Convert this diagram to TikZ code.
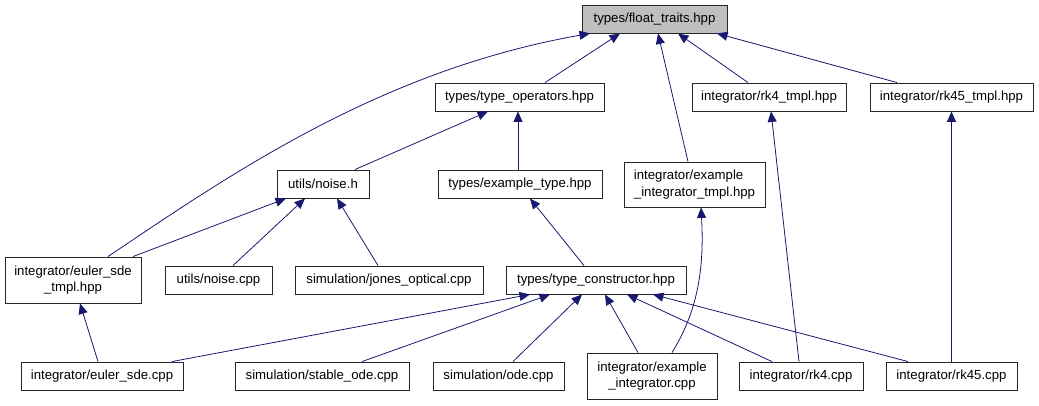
\documentclass[tikz,border=0pt]{standalone}
\usepackage{fontspec}
\setmainfont{Liberation Sans}
\usetikzlibrary{arrows.meta}

\definecolor{edgeblue}{HTML}{191970}
\definecolor{rootgray}{HTML}{BFBFBF}

\tikzset{
  file/.style={draw=black!85, line width=0.9pt, rectangle, inner sep=0pt,
    font=\fontsize{13.2}{16.5}\selectfont, minimum height=28pt, align=center},
  dep/.style={draw=edgeblue, line width=0.8pt, -{Triangle[length=10.5pt,width=9pt]}}
}

\begin{document}
\begin{tikzpicture}[x=1pt,y=-1pt]
        % --- 1. Canvas ---
        \useasboundingbox (0,0) rectangle (1039,405);

        % --- 2. Files, row by row ---
        \node[file, fill=rootgray, minimum width=145pt] (ft) at (654.5,19) {types/float\_traits.hpp};

        \node[file, minimum width=169pt] (top)   at (519.5,97) {types/type\_operators.hpp};
        \node[file, minimum width=154pt] (rk4t)  at (769,97)   {integrator/rk4\_tmpl.hpp};
        \node[file, minimum width=163pt] (rk45t) at (951.5,97) {integrator/rk45\_tmpl.hpp};

        \node[file, minimum width=92pt]  (noiseh) at (323,184) {utils/noise.h};
        \node[file, minimum width=164pt] (extype) at (520,184) {types/example\_type.hpp};
        \node[file, minimum width=141pt, minimum height=45pt, align=left] (exintt) at (694.5,184.5)
              {integrator/example\\\_integrator\_tmpl.hpp};

        \node[file, minimum width=136pt, minimum height=46pt] (eulert) at (73,280)
              {integrator/euler\_sde\\\_tmpl.hpp};
        \node[file, minimum width=107pt] (noisecpp) at (218.5,280) {utils/noise.cpp};
        \node[file, minimum width=188pt] (jones)    at (389,280)   {simulation/jones\_optical.cpp};
        \node[file, minimum width=180pt] (tc)       at (596,280)   {types/type\_constructor.hpp};

        \node[file, minimum width=162pt] (eulercpp) at (102,376)   {integrator/euler\_sde.cpp};
        \node[file, minimum width=174pt] (stable)   at (322,376)   {simulation/stable\_ode.cpp};
        \node[file, minimum width=131pt] (ode)      at (498.5,376) {simulation/ode.cpp};
        \node[file, minimum width=130pt, minimum height=46pt] (exint) at (652,376)
              {integrator/example\\\_integrator.cpp};
        \node[file, minimum width=124pt] (rk4)      at (801,376)   {integrator/rk4.cpp};
        \node[file, minimum width=131pt] (rk45)     at (951.5,376) {integrator/rk45.cpp};

        % --- 3. Includes of float_traits ---
        \draw[dep] ([xshift=25.5pt]top.north)   -- ([xshift=-34.5pt]ft.south);
        \draw[dep] ([xshift=-6.5pt]exintt.north) -- ([xshift=3.5pt]ft.south);
        \draw[dep] ([xshift=-21pt]rk4t.north)   -- ([xshift=23.5pt]ft.south);
        \draw[dep] ([xshift=-54.5pt]rk45t.north) -- ([xshift=62.5pt]ft.south);
        \draw[dep] ([xshift=35pt]eulert.north) .. controls +(122,-82) and +(-210,37) .. ([xshift=-64.5pt]ft.south);

        % --- 4. Second level ---
        \draw[dep] ([xshift=32pt]noiseh.north)  -- ([xshift=-31.5pt]top.south);
        \draw[dep] ([xshift=-2pt]extype.north)  -- ([xshift=-1.5pt]top.south);
        \draw[dep] ([xshift=60pt]eulert.north)  -- ([xshift=-37pt]noiseh.south);
        \draw[dep] ([xshift=14.5pt]noisecpp.north) -- ([xshift=-18pt]noiseh.south);
        \draw[dep] ([xshift=-11pt]jones.north)  -- ([xshift=14pt]noiseh.south);
        \draw[dep] ([xshift=-12pt]tc.north)     -- ([xshift=10pt]extype.south);

        % --- 5. Sources at the bottom ---
        \draw[dep] ([xshift=-4pt]eulercpp.north) -- ([xshift=7pt]eulert.south);
        \draw[dep] ([xshift=70pt]eulercpp.north) -- ([xshift=-66pt]tc.south);
        \draw[dep] ([xshift=40pt]stable.north)   -- ([xshift=-46pt]tc.south);
        \draw[dep] ([xshift=14.5pt]ode.north)    -- ([xshift=-14pt]tc.south);
        \draw[dep] ([xshift=-14pt]exint.north)   -- ([xshift=9pt]tc.south);
        \draw[dep] ([xshift=20pt]exint.north) .. controls +(28,-45) and +(3,55) .. ([xshift=6.5pt]exintt.south);
        \draw[dep] ([xshift=-29pt]rk4.north)     -- ([xshift=31pt]tc.south);
        \draw[dep] ([xshift=-2pt]rk4.north)      -- ([xshift=2pt]rk4t.south);
        \draw[dep] ([xshift=-43.5pt]rk45.north)  -- ([xshift=57pt]tc.south);
        \draw[dep] (rk45.north) -- (rk45t.south);

    \end{tikzpicture}
\end{document}
